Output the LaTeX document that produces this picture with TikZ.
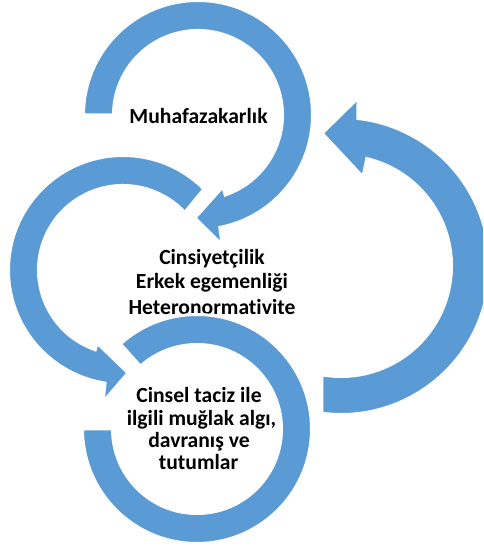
\documentclass[tikz,border=0pt]{standalone}
\usepackage{fontspec}
\setmainfont{Carlito}[Ligatures=NoCommon]
\definecolor{arrowblue}{HTML}{5B9BD5}
\tikzset{
  ringshape/.style={fill=arrowblue, draw=white, line width=3pt, line join=miter},
  lbl/.style={font=\bfseries\fontsize{21.6}{24}\selectfont, inner sep=0pt, anchor=base, text=black}
}
\begin{document}
\begin{tikzpicture}[x=1pt,y=1pt]
\useasboundingbox (0,0) rectangle (483,548);
\clip (0,0) rectangle (483,548);
% right return arrow
\begin{scope}[shift={(341,282)}]
\path[ringshape] (-99.9:110.5) -- (-97.4:148.5)
  arc[start angle=-97.4, end angle=83.5, radius=148.5pt]
  -- (84.2:168.9) -- (98.1:134) -- (76.1:91.7) -- (76.5:110.5)
  arc[start angle=76.5, end angle=-99.9, radius=110.5pt] -- cycle;
\end{scope}
% top arrow
\begin{scope}[shift={(198,433)}]
\path[ringshape] (180:114.5)
  arc[start angle=180, end angle=-79, radius=114.5pt]
  -- (-79.5:132) -- (-91.7:103) -- (-70.9:76) -- (-71.2:84.5)
  arc[start angle=-71.2, end angle=180, radius=84.5pt] -- cycle;
\end{scope}
% middle arrow
\begin{scope}[shift={(123,278)}]
\path[ringshape] (43:84.5) -- (45:114.5)
  arc[start angle=45, end angle=261, radius=114.5pt]
  -- (261.4:133.5) -- (272.8:103) -- (250.4:77.5) -- (250.8:84.5)
  arc[start angle=250.8, end angle=43, radius=84.5pt] -- cycle;
\end{scope}
% middle text (drawn before the bottom ring, which overlaps it)
\node[lbl] (mid1) at (212,283.8) {Cinsiyetçilik};
\node[lbl] (mid2) at (212,259.5) {Erkek egemenliği};
\node[lbl] (mid3) at (212,233) {Heteronormativite};
% bottom ring
\begin{scope}[shift={(197,119)}]
\path[ringshape] (132:114.5)
  arc[start angle=132, end angle=-180, radius=114.5pt]
  -- (-180:84.5)
  arc[start angle=-180, end angle=132, radius=84.5pt] -- cycle;
\end{scope}
% texts
\node[lbl] (top1) at (198.5,424) {Muhafazakarlık};
\node[lbl] (bot1) at (199,145) {Cinsel taciz ile};
\node[lbl] (bot2) at (201.5,122.5) {ilgili muğlak algı,};
\node[lbl] (bot3) at (199,100) {davranış ve};
\node[lbl] (bot4) at (198.5,78) {tutumlar};
\end{tikzpicture}
\end{document}
